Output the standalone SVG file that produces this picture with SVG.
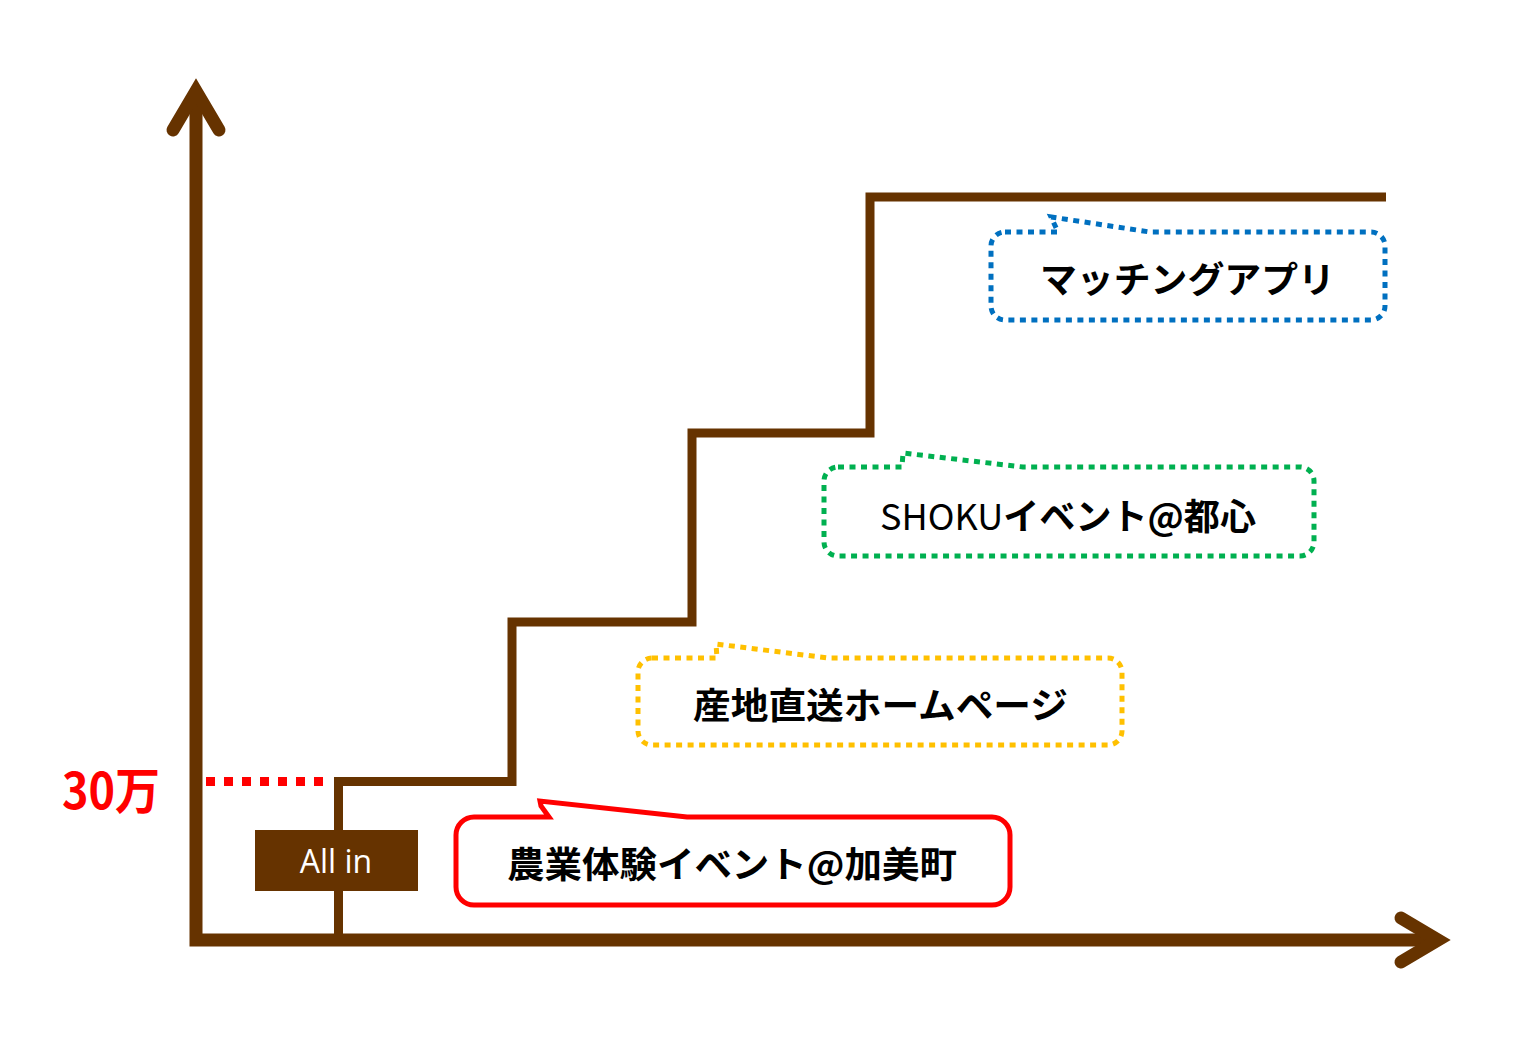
<svg xmlns="http://www.w3.org/2000/svg" width="1518" height="1059" viewBox="0 0 1518 1059">
<style>
.axis{fill:none;stroke:#663300;stroke-width:13;stroke-linejoin:miter;stroke-miterlimit:10}
.head{fill:none;stroke:#663300;stroke-width:13;stroke-linecap:round;stroke-linejoin:miter;stroke-miterlimit:10}
.step{fill:none;stroke:#663300;stroke-width:9;stroke-linejoin:miter}
.callout{fill:#ffffff;stroke-width:5}
.dot{stroke-dasharray:6 5.5}
.lbl{font-family:"Noto Sans CJK JP","Noto Sans",sans-serif;font-weight:bold;font-size:36px;fill:#000000}
</style>
<rect width="1518" height="1059" fill="#ffffff"/>
<g id="connectors">
  <path class="axis" d="M196,96 V940 H1436"/>
  <path class="head" d="M173,130 L196,91 L219,130"/>
  <path class="head" d="M1401,918 L1438,940 L1401,962"/>
  <path class="step" d="M338.5,940 V781.5 H512 V622 H692 V433 H870 V197 H1386"/>
  <line x1="206" y1="781.5" x2="324" y2="781.5" stroke="#ff0000" stroke-width="9" stroke-dasharray="9 9"/>
</g>
<g id="label-30man">
  <text x="62" y="809" font-family="'Noto Sans CJK JP','Noto Sans',sans-serif" font-size="50" font-weight="bold" fill="#ff0000" textLength="98" lengthAdjust="spacingAndGlyphs">30万</text>
</g>
<g id="allin">
  <rect x="255" y="830" width="163" height="61" fill="#663300"/>
  <text x="336" y="873" text-anchor="middle" font-family="'Open Sans',sans-serif" font-size="32" fill="#ffffff">All in</text>
</g>
<g id="callout-red">
  <path class="callout" stroke="#ff0000" d="M474,817 H549 L541,806 L540,801 L687,817 H992 A18,18 0 0 1 1010,835 V887 A18,18 0 0 1 992,905 H474 A18,18 0 0 1 456,887 V835 A18,18 0 0 1 474,817 Z"/>
  <text class="lbl" x="507" y="878" textLength="450" lengthAdjust="spacingAndGlyphs">農業体験イベント@加美町</text>
</g>
<g id="callout-yellow">
  <path class="callout dot" stroke="#ffc000" d="M652,658 H717 L716,644 L828,658 H1108 A14,14 0 0 1 1122,672 V731 A14,14 0 0 1 1108,745 H652 A14,14 0 0 1 638,731 V672 A14,14 0 0 1 652,658 Z"/>
  <text class="lbl" x="693" y="719" textLength="375" lengthAdjust="spacingAndGlyphs">産地直送ホームページ</text>
</g>
<g id="callout-green">
  <path class="callout dot" stroke="#00b050" d="M838,467 H902 L903,453 L1023,467 H1300 A14,14 0 0 1 1314,481 V542 A14,14 0 0 1 1300,556 H838 A14,14 0 0 1 824,542 V481 A14,14 0 0 1 838,467 Z"/>
  <text class="lbl" x="880" y="530" textLength="376" lengthAdjust="spacingAndGlyphs"><tspan font-weight="normal">SHOKU</tspan>イベント@都心</text>
</g>
<g id="callout-blue">
  <path class="callout dot" stroke="#0070c0" d="M1005,232 H1058 L1051,217 L1150,232 H1371 A14,14 0 0 1 1385,246 V306 A14,14 0 0 1 1371,320 H1005 A14,14 0 0 1 991,306 V246 A14,14 0 0 1 1005,232 Z"/>
  <text class="lbl" x="1040" y="293" textLength="295" lengthAdjust="spacingAndGlyphs">マッチングアプリ</text>
</g>
</svg>
